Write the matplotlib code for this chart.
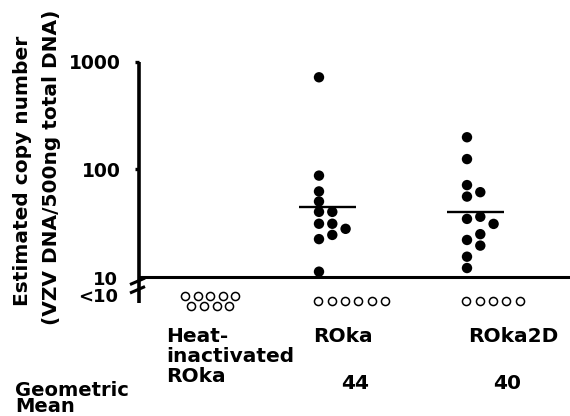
import numpy as np
import matplotlib
matplotlib.use("Agg")
import matplotlib.pyplot as plt
from matplotlib.ticker import NullLocator

# ---------------- data ----------------
groups = ["Heat-\ninactivated\nROka", "ROka", "ROka2D"]
roka_values = [716, 87, 62, 50, 40, 40, 31, 31, 27.8, 24.4, 22.3, 11.1]
roka_cols = [0, 0, 0, 0, 0, 1, 0, 1, 2, 1, 0, 0]
roka2d_values = [198, 124, 71, 61, 55.5, 36, 34.4, 30.9, 24.8, 21.9, 19.4, 15.3, 12]
roka2d_cols = [0, 0, 0, 1, 0, 1, 0, 2, 1, 0, 1, 0, 0]
below_counts = [9, 6, 5]          # samples < 10 copies per group
geo_means = [None, 44, 40]
ytick_vals = [100, 1000]
ytick_labels = ["100", "1000"]

# ---------------- layout ----------------
W, H = 570, 416
fig = plt.figure(figsize=(W / 100, H / 100), dpi=100)
plt.rcParams["font.family"] = ["DejaVu Sans"]
X0, Y10, DEC = 139, 276.5, 107.4   # spine x, pixel row of 10, px per decade


def py(yp):
    """pixel row -> data value (log axis)"""
    return 10 ** (1 - (yp - Y10) / DEC)


ax = fig.add_axes([X0 / W, 1 - 319.5 / H, (W - X0) / W, (319.5 - 61.7) / H])
ax.set_yscale("log")
ax.set_ylim(10 ** 0.6, 1000)
ax.set_xlim(0, W - X0)

for s in ["top", "right", "bottom"]:
    ax.spines[s].set_visible(False)
ax.spines["left"].set_linewidth(2.6)
ax.spines["left"].set_bounds(py(303), 1000)
ax.spines["left"].set_capstyle("butt")
ax.set_xticks([])
ax.set_yticks(ytick_vals)
ax.set_yticklabels(ytick_labels)
ax.yaxis.set_minor_locator(NullLocator())
ax.tick_params(axis="y", length=3, width=2.4, pad=10, labelsize=13.5)
for t in ax.get_yticklabels():
    t.set_fontweight("bold")

# baseline at 10
ax.axhline(10, color="black", lw=2.2, zorder=2)

# axis break marks
for yy in (284.5, 293):
    ax.plot([-9, 6], [py(yy), py(yy - 6.5)], color="black", lw=2.2,
            clip_on=False, solid_capstyle="butt")

ax.text(-21, py(279.5), "10", ha="right", va="center", fontsize=13,
        fontweight="bold", clip_on=False)
ax.text(-21, py(296.5), "<10", ha="right", va="center", fontsize=13,
        fontweight="bold", clip_on=False)

# group anchor positions (px offset from spine)
group_x = [185 - X0, 319 - X0, 467 - X0]
col_step = 13.3

# filled points
for gi, vals, cols in [(1, roka_values, roka_cols), (2, roka2d_values, roka2d_cols)]:
    xs = [group_x[gi] + c * col_step for c in cols]
    ax.scatter(xs, vals, s=56, c="black", edgecolors="none", zorder=3, clip_on=False)
    gm = geo_means[gi]
    ax.plot([group_x[gi] - 20, group_x[gi] + 36.5], [gm, gm], color="black",
            lw=1.7, zorder=3, solid_capstyle="butt")

# open circles (< 10)
ms = 34
# heat-inactivated: two staggered rows
n = below_counts[0]
top_n = (n + 1) // 2
hx = [group_x[0] + i * 12.6 for i in range(top_n)] + \
     [group_x[0] + 6.3 + i * 12.6 for i in range(n - top_n)]
hy = [py(296)] * top_n + [py(305.7)] * (n - top_n)
ax.scatter(hx, hy, s=ms, facecolors="white", edgecolors="black",
           linewidths=1.1, clip_on=False, zorder=3)
for gi in (1, 2):
    n = below_counts[gi]
    xs = [group_x[gi] - 0.7 + i * 13.3 for i in range(n)]
    ax.scatter(xs, [py(300.7)] * n, s=ms, facecolors="white",
               edgecolors="black", linewidths=1.1, clip_on=False, zorder=3)


def ftext(x, y, s, **kw):
    kw.setdefault("va", "baseline")
    fig.text(x / W, 1 - y / H, s, fontweight="bold", **kw)


# y-axis label (two lines)
for xb, yc, s in [(28, 171, "Estimated copy number"),
                  (57, 167, "(VZV DNA/500ng total DNA)")]:
    fig.text(xb / W, 1 - yc / H, s, rotation=90, rotation_mode="anchor",
             ha="center", va="baseline", fontsize=14.5, fontweight="bold")

# group labels
lines = groups[0].split("\n")
for k, ln in enumerate(lines):
    ftext(166, 342 + 20 * k, ln, fontsize=14.5)
ftext(313, 342, groups[1], fontsize=14.5)
ftext(468, 342, groups[2], fontsize=14.5)

# geometric mean row (tight two-line label)
ftext(15, 381, "Geometric\nMean", fontsize=14, va="top", linespacing=0.78)
ftext(341, 389, str(geo_means[1]), fontsize=14.5)
ftext(493, 389, str(geo_means[2]), fontsize=14.5)

fig.savefig("out.png", dpi=100)
